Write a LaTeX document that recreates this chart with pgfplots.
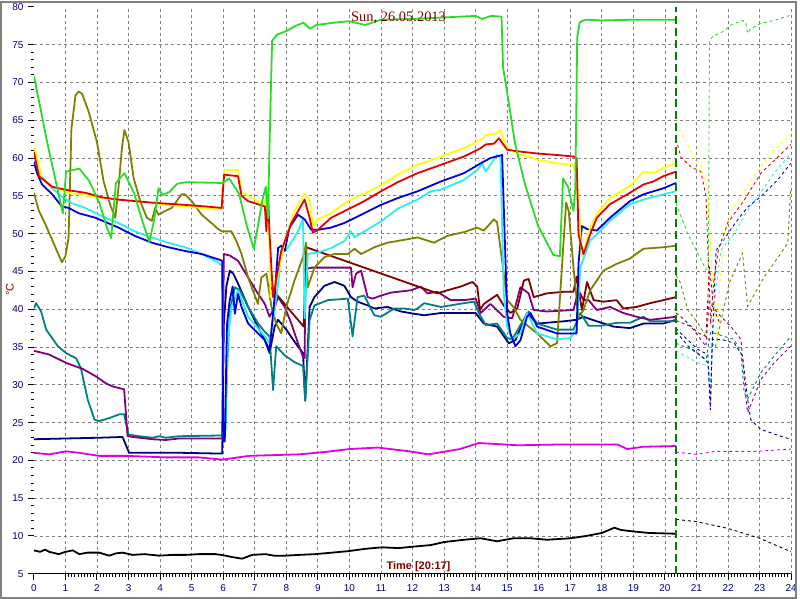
\documentclass[border=0pt]{standalone}
\usepackage{pgfplots}
\pgfplotsset{compat=1.18}
\usepackage{fontspec}
\setmainfont{Liberation Sans}
\newfontfamily\serifti{Liberation Serif}

\definecolor{cgreen}{RGB}{40,220,40}
\definecolor{cred}{RGB}{230,0,0}
\definecolor{cyellow}{RGB}{255,255,0}
\definecolor{cblue}{RGB}{0,0,225}
\definecolor{ccyan}{RGB}{40,240,240}
\definecolor{colive}{RGB}{128,128,0}
\definecolor{cmaroon}{RGB}{128,0,0}
\definecolor{cpurple}{RGB}{128,0,128}
\definecolor{cteal}{RGB}{0,128,128}
\definecolor{cnavy}{RGB}{0,0,128}
\definecolor{cmagenta}{RGB}{225,0,225}
\definecolor{cdkgreen}{RGB}{0,128,0}
\definecolor{labred}{RGB}{128,0,0}

\pgfplotsset{
  solid line/.style={line width=1.8pt, line join=round},
  old line/.style={line width=0.9pt, dash pattern=on 3pt off 3pt},
}

\begin{document}
\begin{tikzpicture}[x=1pt,y=1pt]
\fill[white] (0,0) rectangle (800,600);
\begin{axis}[
    at={(34pt,25pt)}, anchor=south west,
    scale only axis, width=760pt, height=569pt,
    xmin=0, xmax=24, ymin=5, ymax=80,
    axis x line=bottom, axis y line=left,
    axis line style={-, line width=1pt},
    y axis line style={draw=none},
    tick align=outside,
    major tick length=6pt, minor tick length=3pt,
    every tick/.style={black, line width=1pt},
    xtick={1,...,24}, extra x ticks={0},
    ytick={10,15,...,75}, extra y ticks={5,80},
    extra x tick style={grid=none}, extra y tick style={grid=none},
    minor x tick num=9, minor y tick num=4,
    xmajorgrids, ymajorgrids,
    major grid style={gray, line width=0.8pt, dash pattern=on 3pt off 3pt},
    ticklabel style={font=\fontsize{10}{12}\selectfont, text=cnavy},
    /pgf/number format/assume math mode=true,
    xticklabel style={yshift=-1pt},
    yticklabel style={xshift=-1pt},
    clip=true,
]
% ---- today (solid) ----
\addplot[cmagenta, solid line] coordinates {(0,21) (0.49,20.8) (1.02,21.2) (1.44,21) (2.07,20.6) (2.92,20.6) (4.18,20.4) (5.23,20.4) (5.97,20.1) (6.82,20.6) (8.4,20.8) (9.2,21.1) (10,21.5) (10.9,21.7) (11.9,21.2) (12.5,20.8) (13.5,21.5) (14.1,22.3) (15.35,22) (16.6,22.1) (18.5,22.1) (18.8,21.5) (19.3,21.8) (20.35,21.9)};
\addplot[black, solid line] coordinates {(0,8.1) (0.2,7.9) (0.35,8.2) (0.49,7.9) (0.79,7.6) (1.0,7.9) (1.23,8.1) (1.44,7.6) (1.7,7.8) (2.07,7.8) (2.39,7.4) (2.6,7.7) (2.81,7.8) (3.13,7.5) (3.5,7.6) (3.97,7.4) (4.4,7.5) (4.81,7.5) (5.23,7.6) (5.76,7.6) (6.07,7.4) (6.3,7.2) (6.6,7.0) (6.92,7.5) (7.34,7.6) (7.6,7.4) (7.97,7.4) (8.4,7.5) (8.92,7.6) (9.45,7.8) (9.97,8.0) (10.5,8.3) (11.03,8.5) (11.56,8.4) (12.05,8.6) (12.58,8.8) (13,9.2) (13.63,9.5) (14.16,9.7) (14.68,9.3) (15.2,9.7) (15.74,9.7) (16.26,9.5) (17,9.7) (17.5,10) (18.0,10.4) (18.4,11.1) (18.6,10.8) (19.0,10.6) (19.5,10.4) (20.35,10.3)};
\addplot[cnavy, solid line] coordinates {(0,22.8) (1.02,22.9) (2.07,23) (2.81,23.1) (3.02,21) (3.65,21) (4.71,21) (5.97,20.9) (6.02,38) (6.1,43) (6.21,45.1) (6.32,44.7) (6.47,43.4) (6.79,40.3) (7.1,37.7) (7.32,35.9) (7.47,34.2) (7.63,37.7) (7.74,38.6) (8,37.3) (8.26,35.7) (8.53,34.2) (8.6,27.9) (8.74,40.3) (8.89,41.6) (9.21,43.1) (9.53,43.6) (9.84,43.1) (10.05,41.6) (10.26,41) (10.58,40.5) (10.79,40.1) (11.21,40.3) (11.63,39.7) (12.05,39.4) (12.37,39.2) (12.9,39.5) (14,39.5) (14.26,38.1) (14.68,37.7) (15.05,35.5) (15.26,35.9) (15.63,39.5) (15.95,38.1) (16.79,38.4) (17.2,38.6) (17.42,39) (17.84,38.4) (18.37,37.7) (18.89,37.5) (19.32,38.1) (19.95,38.1) (20.35,38.6)};
\addplot[cteal, solid line] coordinates {(0,40.1) (0.07,40.8) (0.23,39.7) (0.39,37.3) (0.76,35.1) (1.02,34.2) (1.34,33.5) (1.49,32.2) (1.71,28) (1.92,25.4) (2.07,25.2) (2.39,25.6) (2.71,26.1) (2.86,26.1) (3,23.4) (3.34,23.2) (3.76,23) (3.97,23.2) (4.18,23) (4.6,23.2) (5.97,23.3) (6.07,24.1) (6.12,32) (6.21,39.8) (6.37,42.9) (6.53,42.5) (6.79,40.3) (7.11,38.1) (7.32,37) (7.47,36.4) (7.58,29.3) (7.68,35.1) (7.95,33.9) (8.26,33) (8.53,32.5) (8.6,27.9) (8.74,38.6) (8.89,40.5) (9.32,41.2) (9.95,41.4) (10.1,36.4) (10.26,41.6) (10.47,41.8) (10.79,39.2) (11,39) (11.42,40.1) (11.74,40.1) (12.05,39.9) (12.16,40.1) (12.37,40.8) (12.9,40.3) (13.63,40.8) (13.95,41) (14.1,39.5) (14.32,37.9) (14.68,38.1) (15,36.2) (15.16,36) (15.42,37.9) (15.68,39.7) (15.95,38.1) (16.58,37.3) (17.1,37.3) (17.32,39.5) (17.58,37.8) (17.95,37.8) (18.47,38.2) (18.89,38.2) (19.32,39) (19.53,38.4) (20.35,38.4)};
\addplot[cpurple, solid line] coordinates {(0,34.5) (0.49,34) (1.02,32.9) (1.55,32.1) (1.97,31.1) (2.28,30.2) (2.49,29.8) (2.86,29.4) (2.97,23.2) (3.34,23) (3.76,22.8) (4.18,22.7) (4.6,22.9) (5.97,22.9) (6.02,47.3) (6.21,47.1) (6.47,46.4) (6.79,44.2) (7.11,42) (7.32,40.7) (7.47,39) (7.63,40.3) (7.74,41.6) (7.95,40.3) (8.16,38.1) (8.37,35.5) (8.53,33.7) (8.58,33.5) (8.61,45.3) (8.79,45.5) (10.05,45.5) (10.1,42.9) (10.21,44.7) (10.37,45.1) (10.58,41.6) (10.74,41.4) (11,41.8) (11.32,42.2) (11.95,42.5) (12.26,43) (12.47,42.1) (12.79,42.3) (13.21,41.2) (13.63,41.2) (14,41.4) (14.16,39.5) (14.47,40.7) (14.89,39) (15.16,38.8) (15.42,42.9) (15.68,42.1) (15.84,39.9) (16.26,39.7) (17.1,39.9) (17.26,42.5) (17.42,41.2) (17.58,41.2) (17.84,39.9) (18.26,40.3) (18.68,39.5) (19.1,39) (19.53,38.6) (19.95,38.8) (20.35,39)};
\addplot[cmaroon, solid line] coordinates {(7.42,43.3) (8.55,37.7) (8.63,48.2) (12.79,42.1) (13.1,42.5) (13.53,43) (13.9,43.6) (14.05,43) (14.14,39.9) (14.26,40.7) (14.68,41.9) (14.89,40.5) (15.1,39.5) (15.32,40.1) (15.53,43.8) (15.68,44) (15.84,41.6) (16.26,42.1) (16.79,42.3) (17.1,42.3) (17.2,44.3) (17.37,39.9) (17.53,43.6) (17.74,41.2) (18.05,41) (18.47,41.2) (18.68,40.1) (19.1,40.3) (19.53,40.8) (19.95,41.2) (20.35,41.6)};
\addplot[colive, solid line] coordinates {(0,55.4) (0.16,53) (0.37,51.2) (0.68,48.2) (0.89,46.2) (1.0,47) (1.1,49.5) (1.19,63.9) (1.32,68.3) (1.42,68.8) (1.53,68.5) (1.74,66.1) (2,62.1) (2.21,56.9) (2.42,53.8) (2.58,52.1) (2.68,56) (2.79,61.3) (2.87,63.7) (3,62.1) (3.16,57.4) (3.37,54.3) (3.58,52.1) (3.74,51.7) (3.84,53.4) (3.95,52.5) (4.16,53) (4.37,53.4) (4.68,55.2) (4.79,55.2) (5,54.3) (5.32,52.5) (5.63,51.4) (5.84,50.6) (5.96,50.3) (6.26,50.3) (6.42,49) (6.58,47.3) (6.79,44.2) (7.1,40.7) (7.21,44.2) (7.37,44.7) (7.53,40.3) (7.68,38.1) (7.84,36.8) (8,40.3) (8.26,43.8) (8.53,46.9) (8.63,48.8) (8.68,42.9) (8.89,45.5) (9.21,46.9) (9.53,47.3) (9.95,47.3) (10.16,48) (10.37,47.3) (10.79,48.2) (11.21,48.8) (11.63,49.1) (12.16,49.5) (12.68,48.8) (13.1,49.7) (13.63,50.2) (14.05,50.8) (14.26,50.4) (14.58,51.9) (14.68,51.5) (15,41.2) (15.2,40.3) (15.42,38.6) (15.95,36.8) (16.37,35.1) (16.58,35.5) (16.79,49.1) (16.87,54.1) (16.95,53) (17.1,45.6) (17.26,39) (17.42,39.9) (17.63,42.5) (18.05,45.1) (18.47,46) (18.89,46.7) (19.32,48) (19.95,48.2) (20.35,48.4)};
\addplot[ccyan, solid line] coordinates {(0,59.1) (0.26,57.5) (0.58,56) (0.89,54.9) (1.21,54) (1.63,53.4) (2.16,52.3) (2.68,51.4) (3.2,50.3) (3.74,49.5) (4.26,48.8) (4.79,48.2) (5.32,47.3) (5.84,46.2) (5.97,45.7) (6.0,23) (6.06,23) (6.15,36) (6.26,40.3) (6.47,42.5) (6.79,39) (7.32,36.4) (7.47,35.5) (7.58,38.5) (7.74,43.3) (7.84,47.7) (8.05,48.1) (8.37,50.3) (8.53,51.9) (8.58,38.8) (8.68,47.3) (9,47.5) (9.42,48.1) (9.84,49) (10.05,50.3) (10.16,49.5) (10.47,50.3) (11,51.6) (11.53,53.3) (11.95,54.1) (12.16,54.5) (12.58,55.6) (12.9,55.8) (13.63,57.1) (14.05,58.4) (14.21,59.3) (14.32,58.2) (14.68,60.4) (14.79,60.2) (14.89,42.1) (15,37.7) (15.16,36) (15.42,36.8) (15.63,39.5) (15.95,36.8) (16.58,36) (17,36.2) (17.2,37.3) (17.32,45.6) (17.63,49.1) (17.84,49.9) (18.26,51.7) (18.89,53.9) (19.32,54.5) (19.95,55.2) (20.35,55.6)};
\addplot[cblue, solid line] coordinates {(0,59.5) (0.1,58) (0.26,56.5) (0.58,55.2) (0.89,53.6) (1.1,53.4) (1.42,52.7) (1.95,52.1) (2.68,50.8) (3.2,49.7) (3.74,48.8) (4.26,48.2) (4.79,47.7) (5.32,47.3) (5.84,46.6) (5.97,46.4) (6.0,22.5) (6.05,22.5) (6.12,38) (6.2,41) (6.3,43) (6.37,39.4) (6.47,42) (6.58,40.3) (6.79,38.1) (7.32,35.9) (7.47,34.6) (7.63,41.6) (7.74,48.1) (7.84,48.4) (7.95,47.7) (8.1,50.8) (8.37,52.5) (8.58,51.9) (8.79,50.5) (9,50.5) (9.42,50.8) (9.84,51.4) (10.47,52.7) (11,53.8) (11.53,54.7) (12.16,55.6) (12.9,56.9) (13.63,58) (14.16,59.3) (14.47,60) (14.84,60.4) (15,39.5) (15.1,36.8) (15.26,35.1) (15.42,35.9) (15.63,39) (15.74,39.5) (15.95,37.7) (16.58,36.8) (17.2,36.8) (17.26,46) (17.37,51) (17.53,50.6) (17.84,50.4) (18.26,52.1) (18.89,54.3) (19.32,55.2) (19.95,56) (20.35,56.7)};
\addplot[cyellow, solid line] coordinates {(0,61.5) (0.26,57.3) (0.58,56.2) (1.1,55.4) (2.16,54.7) (3.2,54.3) (4.26,53.8) (5.32,53.4) (5.95,53.2) (6.03,58.4) (6.47,58.4) (6.58,55.5) (6.79,55) (7.32,53.8) (7.42,56.7) (7.5,41.6) (7.74,44.7) (7.95,49) (8.26,53) (8.58,55.3) (8.74,54.3) (8.84,51) (9,51.9) (9.42,52.7) (9.95,54.3) (10.47,55.3) (11,56.4) (11.53,57.8) (12.16,59.1) (12.9,60.2) (13.63,61.3) (14.16,62.4) (14.32,63) (14.68,63.3) (14.79,63.7) (15,61.3) (15.32,60.6) (15.95,59.8) (16.58,59.3) (17.1,59.1) (17.2,57.8) (17.37,46.9) (17.63,50.8) (17.84,52.6) (18.26,54.7) (18.89,56.3) (19.32,58.2) (19.63,58) (19.95,58.7) (20.35,59.3)};
\addplot[cred, solid line] coordinates {(0,60.8) (0.16,57.6) (0.58,56.2) (1,55.8) (1.63,55.4) (2.16,54.8) (2.68,54.5) (3.74,54.1) (4.79,53.8) (5.42,53.6) (5.95,53.4) (6.03,57.8) (6.47,57.6) (6.58,55) (6.79,54.3) (7.32,53.6) (7.37,50.3) (7.42,55.1) (7.47,49.9) (7.58,41.6) (7.84,47.7) (8.16,51.4) (8.58,54.5) (8.74,52.1) (8.84,50.1) (9,50.5) (9.42,52.1) (9.95,53.2) (10.47,54.3) (11,55.6) (11.53,56.8) (12.16,58) (12.9,59.1) (13.63,60.2) (14.16,61.3) (14.32,61.8) (14.58,61.9) (14.74,62.6) (15,61.1) (15.32,60.9) (15.95,60.6) (16.58,60.4) (17.1,60.2) (17.2,60) (17.26,49.9) (17.42,47.3) (17.63,49.9) (17.84,52.1) (18.26,53.9) (18.89,55.4) (19.32,56.5) (19.63,56.9) (19.95,57.6) (20.35,58.2)};
\addplot[cgreen, solid line] coordinates {(0,70.9) (0.45,61.5) (0.92,52.7) (1.02,58.2) (1.44,58.6) (1.75,57) (2.08,54) (2.3,51) (2.45,49.4) (2.6,56.7) (2.87,58) (3.18,55.3) (3.45,51.5) (3.66,48.9) (3.81,51.8) (3.95,56) (4.08,55.1) (4.29,55.5) (4.55,56.6) (4.82,56.8) (5.98,56.7) (6.19,57.3) (6.5,55.3) (6.75,51) (6.97,48) (7.1,51) (7.24,54.4) (7.35,56.2) (7.42,52) (7.47,62) (7.55,75.5) (7.7,76.3) (8.0,76.8) (8.3,77.5) (8.55,77.9) (8.75,77.1) (8.95,77.6) (9.5,77.9) (10,78.1) (10.5,77.6) (11,78.3) (12,78.4) (13,78.6) (14,78.8) (14.2,78.4) (14.5,78.8) (14.82,78.7) (14.87,72) (15.04,67.6) (15.25,61.9) (15.56,56.6) (15.98,51) (16.46,47.2) (16.67,47) (16.77,57.3) (16.93,56.2) (17.1,53) (17.16,56) (17.22,76) (17.3,78) (17.5,78.3) (18,78.2) (19,78.3) (20.35,78.3)};
% ---- previous day (dashed) ----
\addplot[cmagenta, old line] coordinates {(20.35,21.1) (21,20.8) (21.6,21.2) (22.9,21.2) (24,21.5)};
\addplot[black, old line] coordinates {(20.35,12.2) (21,11.9) (22,11) (23,9.7) (24,7.9)};
\addplot[cnavy, old line] coordinates {(20.35,37.5) (20.48,36.9) (21.04,34.7) (21.36,34) (21.44,27) (21.5,36) (21.8,36) (22.2,35.5) (22.46,33.8) (22.57,29.8) (22.62,28.1) (22.72,25.4) (23.04,24.1) (23.67,23.2) (23.99,22.8)};
\addplot[cteal, old line] coordinates {(20.35,35.5) (20.83,34.7) (21.3,33.3) (21.45,37) (21.88,36.4) (22.2,36) (22.41,34.2) (22.51,29) (22.62,28.1) (23.04,31.6) (23.46,33.8) (23.99,36.4)};
\addplot[cpurple, old line] coordinates {(20.35,38.5) (20.83,37.7) (21.3,35.1) (21.4,41) (21.67,39.5) (22.09,37.7) (22.41,36) (22.57,28.1) (22.62,26.3) (23.04,30.7) (23.46,32.9) (23.99,35.1)};
\addplot[cmaroon, old line] coordinates {(20.35,39.5) (20.48,39.1) (21.04,36.9) (21.3,36.4) (21.41,45.6) (21.55,40) (21.75,38)};
\addplot[colive, old line] coordinates {(20.35,44.5) (20.49,43.5) (20.72,39.9) (21.04,38.2) (21.3,36.4) (21.6,35) (22.04,43.5) (22.46,47.4) (22.62,40.4) (23.15,44.3) (23.89,48.7) (23.99,56)};
\addplot[ccyan, old line] coordinates {(20.35,34.5) (20.48,34.2) (21.04,32.9) (21.36,32.5) (21.46,30.3) (21.51,36) (21.6,42) (21.77,47.8) (22.2,50) (22.62,53.1) (22.94,54.9) (23.46,58) (23.99,60.6)};
\addplot[cblue, old line] coordinates {(20.35,37) (20.48,36.4) (20.74,35.1) (21.16,33.8) (21.37,32.9) (21.44,26.7) (21.51,36.9) (21.62,47.8) (21.72,48.3) (21.99,50) (22.3,51.8) (22.62,53.5) (23.04,54.9) (23.57,57.1) (23.99,59.3)};
\addplot[cyellow, old line] coordinates {(20.35,64.5) (20.72,61.8) (21.14,58.8) (21.35,56) (21.45,48) (21.55,41) (21.65,36) (21.75,44) (21.88,50) (22.1,53) (22.41,54.9) (22.94,58.4) (23.46,61) (23.99,63.2)};
\addplot[cred, old line] coordinates {(20.35,62.5) (20.51,60.1) (20.83,58.8) (21.14,58.2) (21.3,55) (21.38,46) (21.45,38) (21.55,44) (21.7,48) (22.0,51.5) (22.51,54.4) (23.04,58) (23.57,60.1) (23.99,61.8)};
\addplot[cgreen, old line] coordinates {(20.35,54) (20.72,50) (21.04,47.4) (21.3,45.2) (21.38,46) (21.41,75.2) (21.51,76.1) (21.88,76.8) (22.09,77.6) (22.46,78.2) (22.57,77.8) (22.62,76.5) (22.72,77.1) (23.04,77.8) (23.46,78.2) (23.99,78.9)};
% current time marker
\addplot[cdkgreen, line width=1.3pt, dash pattern=on 8pt off 4pt] coordinates {(20.35,5) (20.35,80)};
\end{axis}
\node[text=labred, font=\serifti\fontsize{14.5}{16}\selectfont] at (400,583) {Sun, 26.05.2013};
\node[text=labred, font=\bfseries\fontsize{11}{13}\selectfont] at (420,32) {Time [20:17]};
\node[text=labred, font=\fontsize{11}{13}\selectfont, rotate=90] at (10,310) {°C};
\draw[gray, line width=2pt] (1,1) rectangle (799,599);
\end{tikzpicture}
\end{document}
